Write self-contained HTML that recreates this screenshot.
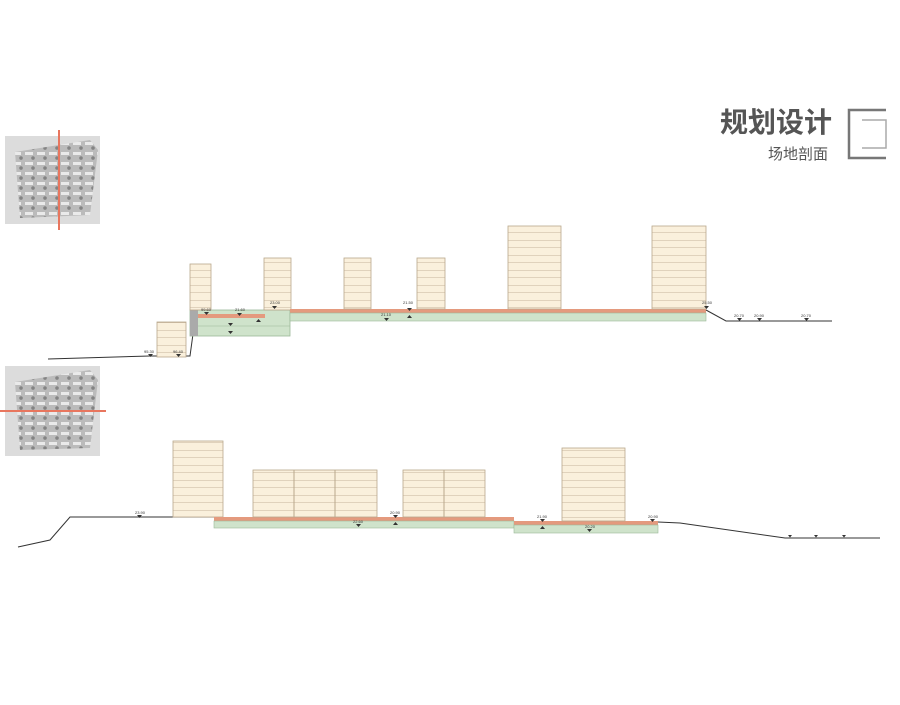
<!DOCTYPE html>
<html><head><meta charset="utf-8"><style>
body{margin:0;width:900px;height:700px;background:#fff;overflow:hidden;font-family:"Liberation Sans","Noto Sans CJK SC",sans-serif}
</style></head><body>
<svg width="900" height="700" xmlns="http://www.w3.org/2000/svg" font-family="Liberation Sans, Noto Sans CJK SC, sans-serif">
<defs>
<pattern id="fl" width="10" height="7.5" patternUnits="userSpaceOnUse"><rect width="10" height="7.5" fill="#faf0dc"/><line x1="0" y1="0" x2="10" y2="0" stroke="#b9a78c" stroke-width="0.8"/></pattern>
<pattern id="map" width="12" height="10" patternUnits="userSpaceOnUse"><rect width="12" height="10" fill="#b0b0b0"/><rect x="1" y="2" width="8" height="3" fill="#eee"/><circle cx="9" cy="8" r="1.8" fill="#666"/></pattern>
</defs>
<text x="720" y="132" font-size="28" font-weight="bold" fill="#555" font-family="Liberation Sans, Noto Sans CJK SC, sans-serif">规划设计</text>
<text x="768" y="159" font-size="15" fill="#555" font-family="Liberation Sans, Noto Sans CJK SC, sans-serif">场地剖面</text>
<path d="M886 110 H849 V158 H886" fill="none" stroke="#777" stroke-width="2.5"/>
<path d="M862 120 H886 V148 H862" fill="none" stroke="#aaa" stroke-width="1.5"/>
<!-- thumbs -->
<rect x="5" y="136" width="95" height="88" fill="#dcdcdc"/>
<path d="M15 152 L90 140 L98 150 L90 215 L20 218 Z" fill="url(#map)" opacity="0.75"/>
<line x1="59" y1="130" x2="59" y2="230" stroke="#e8765e" stroke-width="2"/>
<rect x="5" y="366" width="95" height="90" fill="#dcdcdc"/>
<path d="M15 382 L90 370 L98 380 L90 448 L20 450 Z" fill="url(#map)" opacity="0.75"/>
<line x1="0" y1="411" x2="106" y2="411" stroke="#e8765e" stroke-width="2"/>
<!-- section 1 -->
<polyline points="48,359 150,356 190,356 196,312" fill="none" stroke="#333" stroke-width="1"/>
<rect x="157" y="322" width="29" height="35" fill="url(#fl)" stroke="#b9a78c" stroke-width="0.8"/>
<rect x="190" y="310" width="100" height="26" fill="#cfe3cb" stroke="#9bb898" stroke-width="0.8"/>
<rect x="190" y="310" width="8" height="26" fill="#aaa"/>
<rect x="198" y="314" width="67" height="4" fill="#e49a7e"/>
<line x1="198" y1="326" x2="290" y2="326" stroke="#9bb898" stroke-width="0.6"/>
<rect x="190" y="264" width="21" height="46" fill="url(#fl)" stroke="#b9a78c" stroke-width="0.8"/>
<rect x="264" y="258" width="27" height="52" fill="url(#fl)" stroke="#b9a78c" stroke-width="0.8"/>
<rect x="290" y="309" width="416" height="4" fill="#e49a7e"/>
<rect x="290" y="313" width="416" height="8" fill="#cfe3cb" stroke="#9bb898" stroke-width="0.6"/>
<rect x="344" y="258" width="27" height="51" fill="url(#fl)" stroke="#b9a78c" stroke-width="0.8"/>
<rect x="417" y="258" width="28" height="51" fill="url(#fl)" stroke="#b9a78c" stroke-width="0.8"/>
<rect x="508" y="226" width="53" height="83" fill="url(#fl)" stroke="#b9a78c" stroke-width="0.8"/>
<rect x="652" y="226" width="54" height="83" fill="url(#fl)" stroke="#b9a78c" stroke-width="0.8"/>
<polyline points="706,310 726,321 832,321" fill="none" stroke="#333" stroke-width="1"/>
<g fill="#333" font-size="4">
<path d="M148 354h5l-2.5 3z"/><path d="M176 354h5l-2.5 3z"/><path d="M204 312h5l-2.5 3z"/><path d="M237 313h5l-2.5 3z"/><path d="M272 306h5l-2.5 3z"/><path d="M228 323h5l-2.5 3z"/><path d="M228 331h5l-2.5 3z"/><path d="M256 322h5l-2.5-3z"/><path d="M384 318h5l-2.5 3z"/><path d="M407 308h5l-2.5 3z"/><path d="M407 318h5l-2.5-3z"/><path d="M704 306h5l-2.5 3z"/><path d="M737 318h5l-2.5 3z"/><path d="M757 318h5l-2.5 3z"/><path d="M804 318h5l-2.5 3z"/>
<text x="144" y="353">95.30</text><text x="173" y="353">96.40</text><text x="201" y="311">99.60</text><text x="235" y="311">21.60</text><text x="270" y="304">23.00</text><text x="403" y="304">21.50</text><text x="381" y="316">21.10</text><text x="702" y="304">25.50</text><text x="734" y="317">20.70</text><text x="754" y="317">20.90</text><text x="801" y="317">20.70</text>
</g>
<!-- section 2 -->
<polyline points="18,547 50,540 70,517 214,517" fill="none" stroke="#333" stroke-width="1"/>
<rect x="173" y="441" width="50" height="76" fill="url(#fl)" stroke="#b9a78c" stroke-width="0.8"/>
<rect x="214" y="517" width="300" height="4" fill="#e49a7e"/>
<rect x="214" y="521" width="300" height="7" fill="#cfe3cb" stroke="#9bb898" stroke-width="0.6"/>
<rect x="253" y="470" width="124" height="47" fill="url(#fl)" stroke="#b9a78c" stroke-width="0.8"/>
<line x1="294" y1="470" x2="294" y2="517" stroke="#b9a78c"/><line x1="335" y1="470" x2="335" y2="517" stroke="#b9a78c"/>
<rect x="403" y="470" width="82" height="47" fill="url(#fl)" stroke="#b9a78c" stroke-width="0.8"/>
<line x1="444" y1="470" x2="444" y2="517" stroke="#b9a78c"/>
<rect x="514" y="521" width="144" height="4" fill="#e49a7e"/>
<rect x="514" y="525" width="144" height="8" fill="#cfe3cb" stroke="#9bb898" stroke-width="0.6"/>
<rect x="562" y="448" width="63" height="73" fill="url(#fl)" stroke="#b9a78c" stroke-width="0.8"/>
<polyline points="658,522 680,523 785,538 880,538" fill="none" stroke="#333" stroke-width="1"/>
<g fill="#333" font-size="4">
<path d="M137 515h5l-2.5 3z"/><path d="M356 524h5l-2.5 3z"/><path d="M393 515h5l-2.5 3z"/><path d="M393 525h5l-2.5-3z"/><path d="M540 519h5l-2.5 3z"/><path d="M540 529h5l-2.5-3z"/><path d="M587 529h5l-2.5 3z"/><path d="M650 519h5l-2.5 3z"/>
<path d="M788 535h4l-2 2.5z"/><path d="M814 535h4l-2 2.5z"/><path d="M842 535h4l-2 2.5z"/>
<text x="135" y="514">23.90</text><text x="353" y="523">22.60</text><text x="390" y="514">20.90</text><text x="537" y="518">21.90</text><text x="585" y="528">20.20</text><text x="648" y="518">20.90</text>
</g>
</svg>
</body></html>
